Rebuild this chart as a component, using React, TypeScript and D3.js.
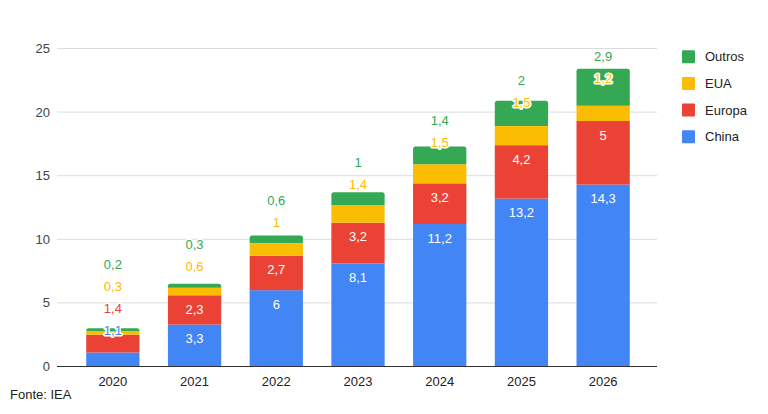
import React, { useEffect, useRef } from "react";
import * as d3 from "d3";

const years = ["2020", "2021", "2022", "2023", "2024", "2025", "2026"];
const china = [1.1, 3.3, 6, 8.1, 11.2, 13.2, 14.3];
const europa = [1.4, 2.3, 2.7, 3.2, 3.2, 4.2, 5];
const eua = [0.3, 0.6, 1, 1.4, 1.5, 1.5, 1.2];
const outros = [0.2, 0.3, 0.6, 1, 1.4, 2, 2.9];
const yTicks = [0, 5, 10, 15, 20, 25];

const seriesNames = ["China", "Europa", "EUA", "Outros"];
const seriesColors = ["#4285F4", "#EA4335", "#FBBC04", "#34A853"];
// labels drawn inside the segment (white) when there is room
const seriesInside = [true, true, false, false];

const W = 768;
const H = 414;
const FONT = "Arial, 'Liberation Sans', sans-serif";

const fmt = (v: number) => String(v).replace(".", ",");

const App = () => {
  const ref = useRef<SVGSVGElement>(null);

  useEffect(() => {
    if (!ref.current) return;
    const svg = d3.select(ref.current);
    svg.selectAll("*").remove();

    const values = [china, europa, eua, outros];
    const rows = years.map((y, i) => ({
      year: y,
      China: china[i],
      Europa: europa[i],
      EUA: eua[i],
      Outros: outros[i],
    }));
    const stacked = d3.stack<any>().keys(seriesNames)(rows);

    const gridLeft = 57;
    const gridRight = 657;
    const x = d3.scaleBand().domain(years).range([72, 644]).paddingInner(0.348).paddingOuter(0.174);
    const y = d3.scaleLinear().domain([0, 25]).range([366.5, 48.5]);

    // gridlines
    svg.append("g")
      .selectAll("line")
      .data(yTicks.filter((t) => t > 0))
      .enter()
      .append("line")
      .attr("x1", gridLeft)
      .attr("x2", gridRight)
      .attr("y1", (d) => y(d))
      .attr("y2", (d) => y(d))
      .attr("stroke", "#dcdcdc")
      .attr("stroke-width", 1);

    // y tick labels
    svg.append("g")
      .selectAll("text")
      .data(yTicks)
      .enter()
      .append("text")
      .attr("x", 50)
      .attr("y", (d) => y(d))
      .attr("dy", "0.35em")
      .attr("text-anchor", "end")
      .attr("font-family", FONT)
      .attr("font-size", 13)
      .attr("fill", "#444")
      .text((d) => d);

    // bars
    const bw = x.bandwidth();
    const r = 2.5;
    stacked.forEach((layer, si) => {
      const g = svg.append("g").attr("fill", seriesColors[si]);
      layer.forEach((seg, i) => {
        const x0 = x(years[i]) as number;
        const yTop = y(seg[1]);
        const yBot = y(seg[0]);
        if (si === stacked.length - 1) {
          const p = d3.path();
          p.moveTo(x0, yBot);
          p.lineTo(x0, yTop + r);
          p.quadraticCurveTo(x0, yTop, x0 + r, yTop);
          p.lineTo(x0 + bw - r, yTop);
          p.quadraticCurveTo(x0 + bw, yTop, x0 + bw, yTop + r);
          p.lineTo(x0 + bw, yBot);
          p.closePath();
          g.append("path").attr("d", p.toString());
        } else {
          g.append("rect")
            .attr("x", x0)
            .attr("y", yTop)
            .attr("width", bw)
            .attr("height", Math.max(0, yBot - yTop));
        }
      });
    });

    // baseline
    svg.append("line")
      .attr("x1", gridLeft)
      .attr("x2", gridRight)
      .attr("y1", y(0))
      .attr("y2", y(0))
      .attr("stroke", "#333")
      .attr("stroke-width", 1);

    // data labels
    const labelG = svg.append("g").attr("font-family", FONT).attr("font-size", 13).attr("text-anchor", "middle");
    years.forEach((yr, i) => {
      const cx = (x(yr) as number) + bw / 2;
      const outside: { si: number; ideal: number }[] = [];
      stacked.forEach((layer, si) => {
        const seg = layer[i];
        const h = y(seg[0]) - y(seg[1]);
        if (seriesInside[si] && h >= 22) {
          labelG.append("text")
            .attr("x", cx)
            .attr("y", y(seg[1]) + 14)
            .attr("dy", "0.35em")
            .attr("fill", "#fff")
            .text(fmt(values[si][i]));
        } else {
          outside.push({ si, ideal: y((seg[0] + seg[1]) / 2) });
        }
      });
      if (!outside.length) return;
      const n = outside.length;
      const spacing = 22;
      const mean = d3.mean(outside, (o) => o.ideal) as number - (22 + 5.5 * n);
      outside.forEach((o, k) => {
        const ly = mean + ((n - 1) / 2 - k) * spacing;
        labelG.append("text")
          .attr("x", cx)
          .attr("y", ly)
          .attr("dy", "0.35em")
          .attr("fill", seriesColors[o.si])
          .attr("stroke", "#fff")
          .attr("stroke-width", 3)
          .attr("stroke-linejoin", "round")
          .attr("paint-order", "stroke")
          .text(fmt(values[o.si][i]));
      });
    });

    // x tick labels
    svg.append("g")
      .selectAll("text")
      .data(years)
      .enter()
      .append("text")
      .attr("x", (d) => (x(d) as number) + bw / 2)
      .attr("y", 381)
      .attr("dy", "0.35em")
      .attr("text-anchor", "middle")
      .attr("font-family", FONT)
      .attr("font-size", 13)
      .attr("fill", "#222")
      .text((d) => d);

    // legend (top to bottom: reversed series order)
    const legend = svg.append("g").attr("font-family", FONT).attr("font-size", 13);
    const order = [3, 2, 1, 0];
    order.forEach((si, k) => {
      const ly = 56.7 + k * 26.7;
      legend.append("rect")
        .attr("x", 682)
        .attr("y", ly - 6.5)
        .attr("width", 13)
        .attr("height", 13)
        .attr("rx", 1)
        .attr("fill", seriesColors[si]);
      legend.append("text")
        .attr("x", 705)
        .attr("y", ly)
        .attr("dy", "0.35em")
        .attr("fill", "#222")
        .text(seriesNames[si]);
    });

    // source
    svg.append("text")
      .attr("x", 10)
      .attr("y", 394)
      .attr("dy", "0.35em")
      .attr("font-family", FONT)
      .attr("font-size", 13)
      .attr("fill", "#222")
      .text("Fonte: IEA");
  }, []);

  return (
    <svg
      ref={ref}
      width={W}
      height={H}
      style={{ position: "absolute", left: 0, top: 0, background: "#fff" }}
    />
  );
};

export default App;
